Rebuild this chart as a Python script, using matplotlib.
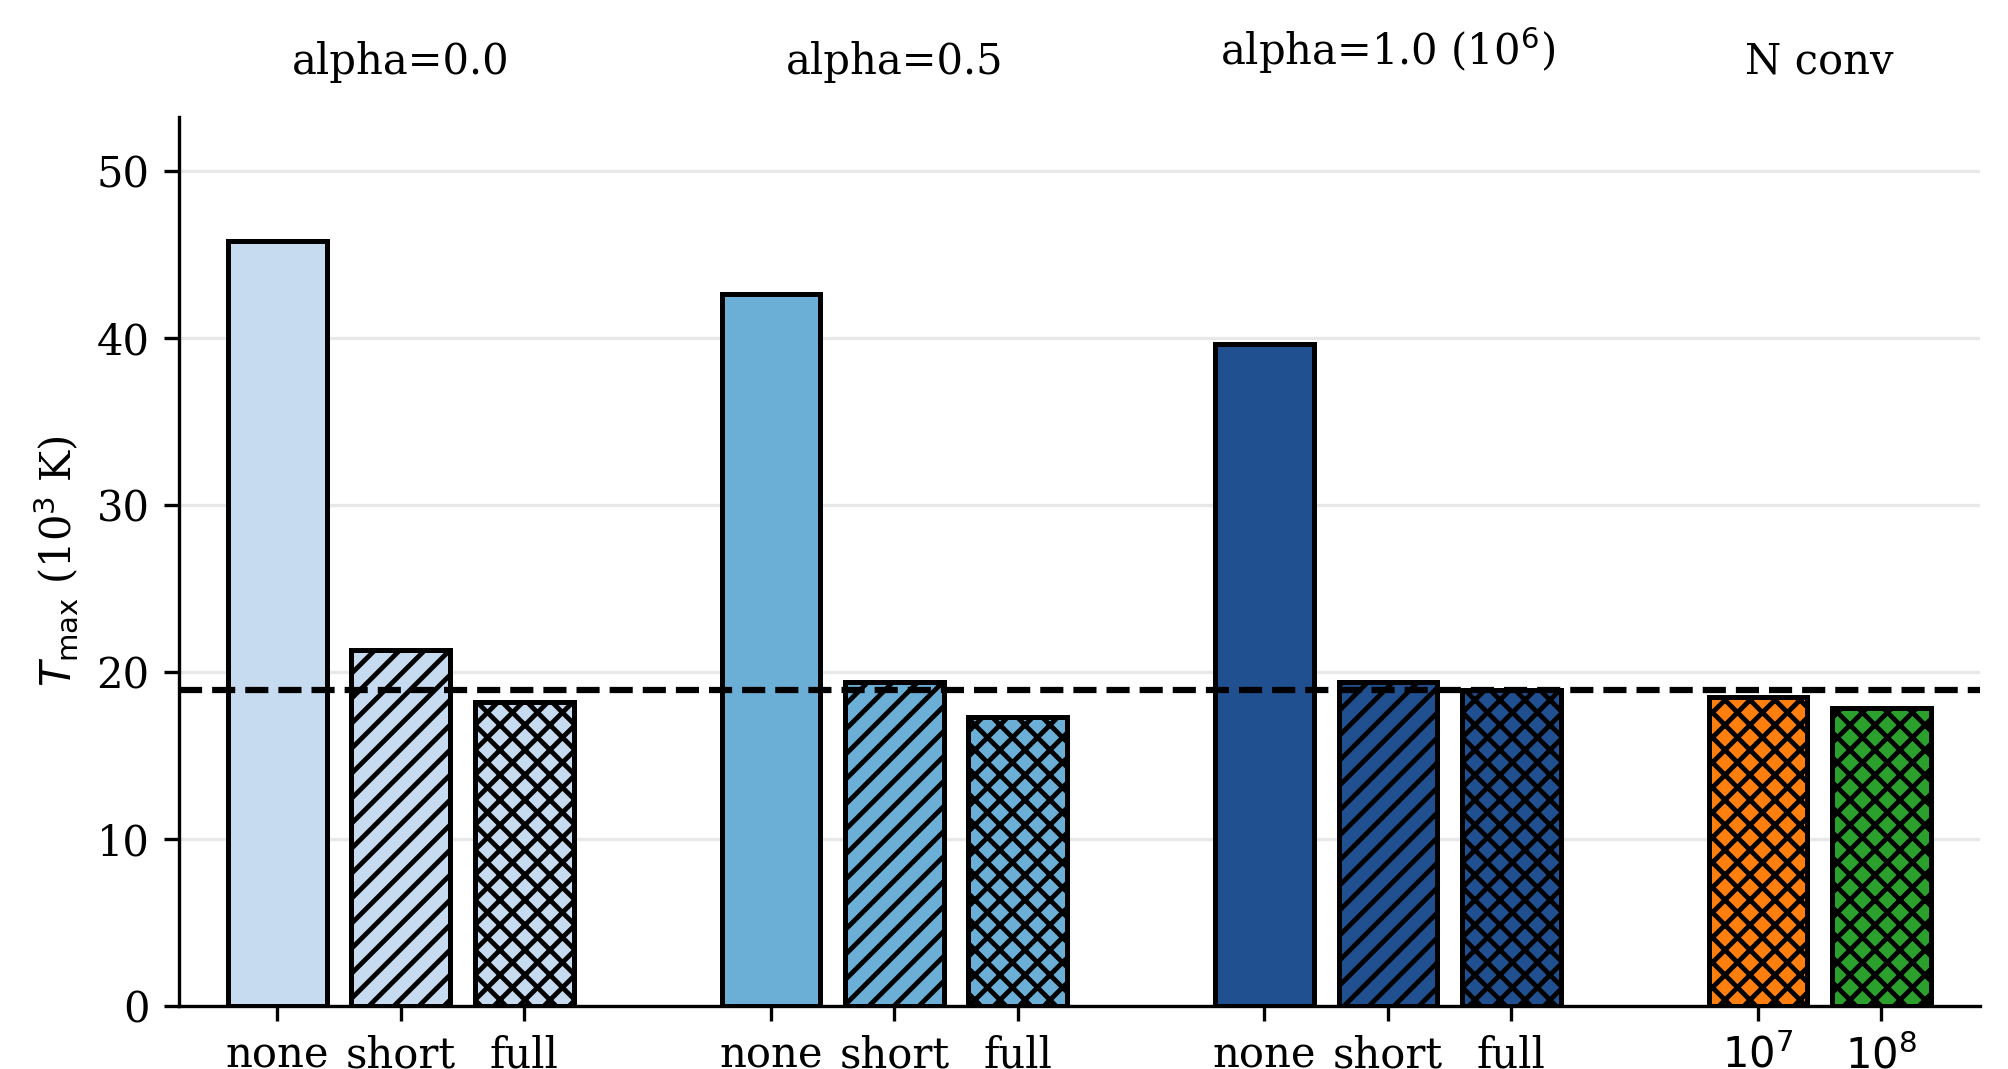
import matplotlib
matplotlib.use("Agg")
import matplotlib.pyplot as plt
import matplotlib.transforms as mtransforms

plt.rcParams['font.family'] = 'serif'
plt.rcParams['font.serif'] = ['DejaVu Serif']
plt.rcParams['font.size'] = 10
plt.rcParams['hatch.linewidth'] = 1.15

# ---- data ----
group_titles = ['alpha=0.0', 'alpha=0.5', 'alpha=1.0 (10$^6$)', 'N conv']
conv_labels = ['none', 'short', 'full']
alpha00 = [45.8, 21.3, 18.2]
alpha05 = [42.6, 19.4, 17.3]
alpha10 = [39.6, 19.4, 18.9]
nconv_labels = ['$10^7$', '$10^8$']
nconv = [18.5, 17.8]
reference_T = 18.9

# ---- style ----
blue_colors = ['#c6dbef', '#6baed6', '#205090']
nconv_colors = ['#ff7f0e', '#2ca02c']
conv_hatches = ['', '////', 'xxxx']

fig = plt.figure(figsize=(2008 / 300, 1069 / 300), dpi=300)
ax = fig.add_axes([0.089, 0.0592, 0.9861 - 0.089, 0.8903 - 0.0592])

positions = []
ticklabels = []
group_centers = []
pos = 0
for gi, vals in enumerate([alpha00, alpha05, alpha10]):
    xs = [pos + i for i in range(len(vals))]
    for x, v, h, lab in zip(xs, vals, conv_hatches, conv_labels):
        ax.bar(x, v, width=0.8, color=blue_colors[gi], edgecolor='black',
               linewidth=1.2, hatch=h, zorder=2)
        positions.append(x)
        ticklabels.append(lab)
    group_centers.append(sum(xs) / len(xs))
    pos += 4

xs = [pos + i for i in range(len(nconv))]
for x, v, c, lab in zip(xs, nconv, nconv_colors, nconv_labels):
    ax.bar(x, v, width=0.8, color=c, edgecolor='black', linewidth=1.2,
           hatch='xxxx', zorder=2)
    positions.append(x)
    ticklabels.append(lab)
group_centers.append(sum(xs) / len(xs))

ax.axhline(reference_T, color='black', linestyle='--', linewidth=1.5, zorder=3)

ax.set_xticks(positions)
ax.set_xticklabels(ticklabels)
ax.set_xlim(positions[0] - 0.8, positions[-1] + 0.8)
ax.set_ylim(0, 53.2)
ax.set_yticks([0, 10, 20, 30, 40, 50])
ax.set_ylabel(r'$T_{\max}$ (10$^3$ K)')

ax.yaxis.grid(True, color='#e8e8e8', linewidth=0.8, zorder=0)
ax.set_axisbelow(True)
for s in ['top', 'right']:
    ax.spines[s].set_visible(False)

trans = mtransforms.blended_transform_factory(ax.transData, ax.transAxes)
for c, t in zip(group_centers, group_titles):
    yoff = 1.047 if '$' in t else 1.039
    ax.text(c, yoff, t, transform=trans, ha='center', va='bottom')

fig.savefig('out.png', dpi=300)
